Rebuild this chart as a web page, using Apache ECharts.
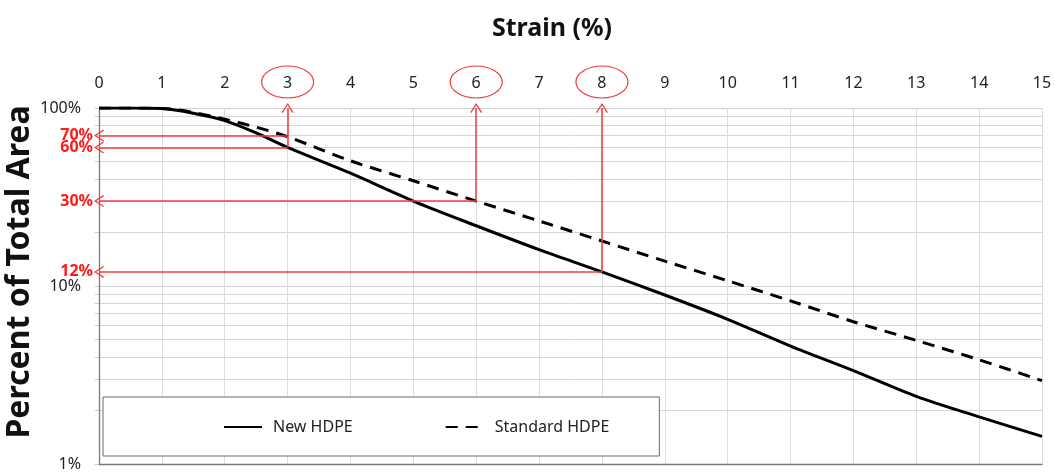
<!DOCTYPE html>
<html><head><meta charset="utf-8">
<script src="https://cdn.jsdelivr.net/npm/echarts@6/dist/echarts.min.js"></script>
<style>html,body{margin:0;padding:0;background:#fff}#c{width:1055px;height:472px}</style>
</head><body><div id="c"></div>
<script>
// ---- data ----
const strain = [0, 0.5, 1, 1.5, 2, 2.5, 3, 4, 5, 6, 7, 8, 9, 10, 11, 12, 13, 14, 15];
const newHDPE = [100, 100, 99.3, 93.5, 85, 72.5, 60, 43, 30, 21.8, 16, 12, 8.9, 6.5, 4.6, 3.35, 2.4, 1.84, 1.43];
const standardHDPE = [100, 100, 99.5, 94.5, 86.5, 78, 69, 50.5, 39, 30, 23.2, 17.9, 13.8, 10.7, 8.25, 6.3, 4.95, 3.85, 2.94];
const seriesNames = ['New HDPE', 'Standard HDPE'];
const xTitle = 'Strain (%)';
const yTitle = 'Percent of Total Area';
const circledStrains = [3, 6, 8];
const upArrows = [[3, 60], [6, 30], [8, 12]];          // strain, percent
const leftArrows = [[3, 70, '70%'], [3, 60, '60%'], [6, 30, '30%'], [8, 12, '12%']];

// ---- styles ----
const FONT = 'Noto Sans';
const RED = '#f03c3c';
const arrowPath = 'path://M5,0 L10,9 L9.1,9.7 L5,2.1 L0.9,9.7 L0,9 Z';

const pair = (xs, ys) => xs.map((x, i) => [x, ys[i]]);

const chart = echarts.init(document.getElementById('c'), null, {renderer: 'canvas'});

const markData = [];
upArrows.forEach(([x, y]) => markData.push([{coord: [x, y]}, {coord: [x, 100]}]));
leftArrows.forEach(([x, y, t]) => markData.push([
  {coord: [x, y], name: t, label: {show: true}},
  {coord: [0, y]}
]));

const yTitleGraphic = {
  type: 'text', x: 20, y: 272, rotation: Math.PI / 2, silent: true,
  style: {text: yTitle, fontFamily: FONT, fontSize: 32, fontWeight: 'bold', fill: '#111',
          align: 'center', verticalAlign: 'middle'}
};

chart.setOption({
  animation: false,
  title: {
    text: xTitle, left: 547, top: 11, textAlign: 'center',
    textStyle: {fontFamily: FONT, fontSize: 25, fontWeight: 'bold', color: '#111'}
  },
  grid: {left: 99, right: 13, top: 108, bottom: 6, containLabel: false},
  legend: {
    data: seriesNames,
    left: 103, top: 397,
    orient: 'horizontal',
    padding: [22, 50, 21, 120],
    itemGap: 92,
    itemWidth: 38, itemHeight: 14,
    itemStyle: {opacity: 0},
    borderColor: '#6b6b6b', borderWidth: 1,
    backgroundColor: '#fff',
    textStyle: {fontFamily: FONT, fontSize: 16, color: '#222', padding: [0, 0, 0, 6]}
  },
  xAxis: [{
    type: 'value', position: 'top', min: 0, max: 15, interval: 1,
    axisLine: {show: true, lineStyle: {color: '#d0d0d0'}},
    axisTick: {show: false},
    axisLabel: {fontFamily: FONT, fontSize: 16, color: '#222', margin: 17},
    splitLine: {show: true, lineStyle: {color: '#dcdcdc', width: 1}}
  }, {
    type: 'value', position: 'bottom', min: 0, max: 15,
    axisLine: {show: true, lineStyle: {color: '#7a7a7a', width: 1.3}},
    axisTick: {show: false}, axisLabel: {show: false}, splitLine: {show: false}
  }],
  yAxis: [{
    type: 'log', logBase: 10, min: 1, max: 100,
    axisLine: {show: true, lineStyle: {color: '#c8c8c8'}},
    axisTick: {show: true, length: 4, lineStyle: {color: '#c8c8c8'}},
    minorTick: {show: true, splitNumber: 9, length: 4, lineStyle: {color: '#c8c8c8'}},
    axisLabel: {fontFamily: FONT, fontSize: 16, color: '#222', margin: 18, formatter: v => v + '%'},
    splitLine: {show: true, lineStyle: {color: '#d0d0d0'}},
    minorSplitLine: {show: true, lineStyle: {color: '#d6d6d6'}}
  }, {
    type: 'value', position: 'right', min: 0, max: 1,
    axisLine: {show: true, lineStyle: {color: '#7a7a7a', width: 1.3}},
    axisTick: {show: false}, axisLabel: {show: false}, splitLine: {show: false}
  }],
  graphic: [yTitleGraphic],
  series: [{
    name: seriesNames[0], type: 'line', data: pair(strain, newHDPE),
    smooth: 0.3, symbol: 'none', xAxisIndex: 0, yAxisIndex: 0,
    lineStyle: {color: '#000', width: 3}, itemStyle: {color: '#000'},
    z: 3,
    markLine: {
      silent: true, animation: false, z: 10,
      symbol: ['none', arrowPath], symbolSize: [12, 10],
      lineStyle: {color: RED, width: 1.5, type: 'solid', opacity: 1},
      label: {show: false, position: 'end', distance: 6, formatter: '{b}',
              fontFamily: FONT, fontSize: 16, fontWeight: 'bold', color: '#ff1a1a'},
      emphasis: {disabled: true},
      data: markData
    }
  }, {
    name: seriesNames[1], type: 'line', data: pair(strain, standardHDPE),
    smooth: 0.3, symbol: 'none', xAxisIndex: 0, yAxisIndex: 0,
    lineStyle: {color: '#000', width: 3, type: [12, 8]}, itemStyle: {color: '#000'},
    z: 3
  }]
});

// circles around selected strain tick labels, placed via the axis scale
const topPx = chart.convertToPixel({yAxisIndex: 0}, 100);
const ellipses = circledStrains.map(s => ({
  type: 'ellipse', silent: true,
  shape: {cx: chart.convertToPixel({xAxisIndex: 0}, s), cy: topPx - 26, rx: 26, ry: 16},
  style: {fill: 'none', stroke: RED, lineWidth: 1.2}
}));
chart.setOption({graphic: [yTitleGraphic].concat(ellipses)});
</script>
</body></html>
